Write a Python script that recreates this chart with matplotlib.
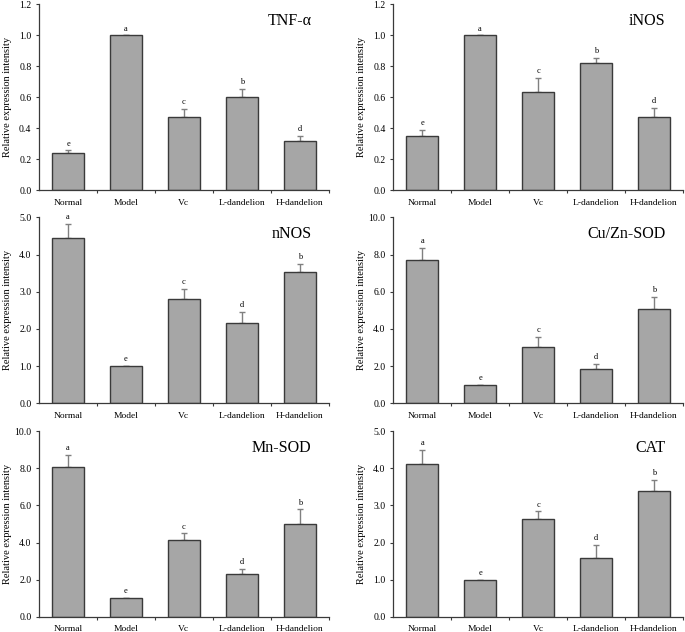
import matplotlib
matplotlib.use('Agg')
import matplotlib.pyplot as plt
import numpy as np

plt.rcParams['font.family'] = ['Liberation Serif', 'DejaVu Serif']

groups = ['Normal', 'Model', 'Vc', 'L-dandelion', 'H-dandelion']

tnf = [0.24, 1.0, 0.47, 0.60, 0.32]
tnf_err = [0.017, 0.0, 0.055, 0.055, 0.03]
tnf_sig = ['e', 'a', 'c', 'b', 'd']

inos = [0.348, 1.0, 0.635, 0.822, 0.47]
inos_err = [0.04, 0.0, 0.092, 0.033, 0.06]
inos_sig = ['e', 'a', 'c', 'b', 'd']

nnos = [4.45, 1.0, 2.81, 2.16, 3.52]
nnos_err = [0.37, 0.0, 0.27, 0.29, 0.23]
nnos_sig = ['a', 'e', 'c', 'd', 'b']

cuzn = [7.73, 1.0, 3.02, 1.85, 5.08]
cuzn_err = [0.62, 0.0, 0.54, 0.27, 0.66]
cuzn_sig = ['a', 'e', 'c', 'd', 'b']

mn = [8.06, 1.0, 4.16, 2.32, 4.97]
mn_err = [0.66, 0.0, 0.33, 0.27, 0.81]
mn_sig = ['a', 'e', 'c', 'd', 'b']

cat = [4.12, 1.0, 2.62, 1.59, 3.38]
cat_err = [0.38, 0.0, 0.22, 0.34, 0.30]
cat_sig = ['a', 'e', 'c', 'd', 'b']

panels = [
    ('TNF-α', tnf, tnf_err, tnf_sig, 1.2, 0.2),
    ('iNOS', inos, inos_err, inos_sig, 1.2, 0.2),
    ('nNOS', nnos, nnos_err, nnos_sig, 5.0, 1.0),
    ('Cu/Zn-SOD', cuzn, cuzn_err, cuzn_sig, 10.0, 2.0),
    ('Mn-SOD', mn, mn_err, mn_sig, 10.0, 2.0),
    ('CAT', cat, cat_err, cat_sig, 5.0, 1.0),
]

fig = plt.figure(figsize=(6.85, 6.32), dpi=100)
lefts = [0.057, 0.574]
bottoms = [0.699, 0.362, 0.024]
w, h = 0.423, 0.294

edge = '#3a3a3a'
x = np.arange(len(groups))

for i, (name, vals, errs, sig, ymax, step) in enumerate(panels):
    ax = fig.add_axes([lefts[i % 2], bottoms[i // 2], w, h])
    ax.bar(x, vals, width=0.55, color='#a6a6a6', edgecolor=edge, linewidth=1.0, zorder=2)
    ax.errorbar(x, vals, yerr=[np.zeros(len(vals)), errs], fmt='none',
                ecolor='#808080', elinewidth=1.0, capsize=2, capthick=1.0, zorder=1)
    for xi, v, e, s in zip(x, vals, errs, sig):
        ax.annotate(s, (xi, v + e), xytext=(0, 2), textcoords='offset points',
                    ha='center', va='bottom', fontsize=6)
    ticks = np.arange(0, ymax + step / 2, step)
    ax.set_xlim(-0.5, 4.5)
    ax.set_ylim(0, ymax)
    ax.set_yticks(ticks)
    ax.set_yticklabels(['%.1f' % t for t in ticks], fontsize=7)
    ax.set_xticks(x)
    ax.set_xticklabels(groups, fontsize=6.8)
    ax.set_xticks(np.arange(0.5, 4.6, 1.0), minor=True)
    ax.tick_params(axis='x', which='major', length=0, pad=6)
    ax.tick_params(axis='x', which='minor', length=2.5, width=0.8, color=edge)
    ax.tick_params(axis='y', length=2.5, width=0.8, color=edge, pad=3)
    for sp in ['top', 'right']:
        ax.spines[sp].set_visible(False)
    for sp in ['left', 'bottom']:
        ax.spines[sp].set_color(edge)
        ax.spines[sp].set_linewidth(0.9)
    ax.set_ylabel('Relative expression intensity', fontsize=7.5)
    ax.yaxis.set_label_coords(-0.095, 0.5)
    ax.text(0.94, 0.91, name, transform=ax.transAxes, ha='right', va='center', fontsize=11.5)

fig.savefig('out.png', dpi=100)
